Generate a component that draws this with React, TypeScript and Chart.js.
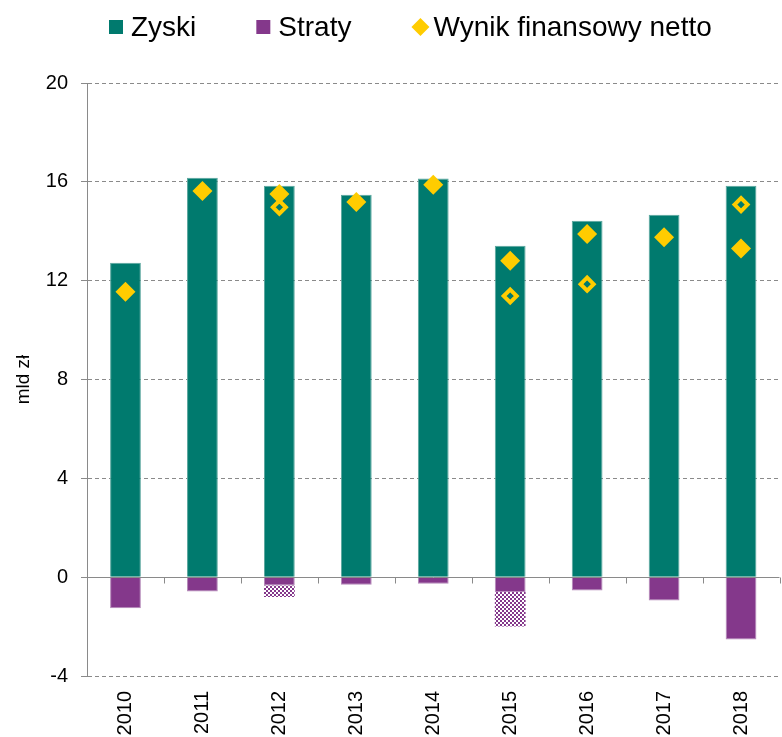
import React, { useEffect, useRef } from 'react';
import { Chart, registerables } from 'chart.js';

Chart.register(...registerables);

const years = ['2010', '2011', '2012', '2013', '2014', '2015', '2016', '2017', '2018'];
const zyski = [12.73, 16.17, 15.84, 15.48, 16.13, 13.41, 14.43, 14.67, 15.84];
const straty = [-1.26, -0.58, -0.34, -0.31, -0.27, -0.6, -0.54, -0.94, -2.52];
const stratyExtra = [null, null, -0.46, null, null, -1.4, null, null, null];
const wynik = [11.55, 15.63, 15.51, 15.18, 15.88, 12.81, 13.89, 13.76, 13.3];
const wynikAlt = [null, null, 14.97, null, null, 11.38, 11.86, null, 15.08];
const yTicks = [-4, 0, 4, 8, 12, 16, 20];

const TEAL = '#007A6E';
const PURPLE = '#84388B';
const YELLOW = '#FFCC00';
const GRID = '#8a8a8a';
const FONT = '"Liberation Sans", Arial, Helvetica, sans-serif';

export default function App() {
  const ref = useRef<HTMLCanvasElement>(null);

  useEffect(() => {
    const canvas = ref.current;
    if (!canvas) return;
    const pc = document.createElement('canvas');
    pc.width = 4;
    pc.height = 4;
    const p = pc.getContext('2d')!;
    p.fillStyle = '#ffffff';
    p.fillRect(0, 0, 4, 4);
    p.fillStyle = PURPLE;
    p.fillRect(0, 0, 2, 2);
    p.fillRect(2, 2, 2, 2);
    const pattern = canvas.getContext('2d')!.createPattern(pc, 'repeat');

    const legendPlugin = {
      id: 'customLegend',
      afterDraw(chart: any) {
        const ctx = chart.ctx;
        ctx.save();
        ctx.font = `28px ${FONT}`;
        ctx.textBaseline = 'alphabetic';
        ctx.textAlign = 'left';
        const items = [
          { label: 'Zyski', color: TEAL, shape: 'rect' },
          { label: 'Straty', color: PURPLE, shape: 'rect' },
          { label: 'Wynik finansowy netto', color: YELLOW, shape: 'diamond' },
        ];
        let x = 109;
        for (const it of items) {
          ctx.fillStyle = it.color;
          if (it.shape === 'rect') {
            ctx.fillRect(x, 20, 14, 14);
          } else {
            const cx = x + 9;
            const cy = 27;
            ctx.beginPath();
            ctx.moveTo(cx - 9, cy);
            ctx.lineTo(cx, cy - 9);
            ctx.lineTo(cx + 9, cy);
            ctx.lineTo(cx, cy + 9);
            ctx.closePath();
            ctx.fill();
          }
          const tx = x + 22;
          ctx.fillStyle = '#000';
          ctx.fillText(it.label, tx, 36);
          x = tx + ctx.measureText(it.label).width + 60;
        }
        ctx.restore();
      },
    };

    const zeroPlugin = {
      id: 'zeroAxis',
      afterDatasetsDraw(chart: any) {
        const ctx = chart.ctx;
        const xs = chart.scales.x;
        const ys = chart.scales.y;
        const area = chart.chartArea;
        const y0 = Math.round(ys.getPixelForValue(0)) + 0.5;
        ctx.save();
        ctx.strokeStyle = GRID;
        ctx.lineWidth = 1;
        ctx.setLineDash([]);
        ctx.beginPath();
        ctx.moveTo(area.left, y0);
        ctx.lineTo(area.right, y0);
        for (let i = 1; i <= years.length; i++) {
          const bx = Math.round((xs.getPixelForValue(i - 1) + (i < years.length ? xs.getPixelForValue(i) : area.right + (area.right - xs.getPixelForValue(i - 1)))) / 2) + 0.5;
          ctx.moveTo(bx, y0);
          ctx.lineTo(bx, y0 + 6);
        }
        ctx.stroke();
        ctx.restore();
      },
    };

    const chart = new Chart(canvas, {
      type: 'bar',
      data: {
        labels: years,
        datasets: [
          {
            type: 'line',
            label: 'Wynik finansowy netto',
            data: wynik,
            showLine: false,
            pointStyle: 'rectRot',
            pointRadius: 10,
            pointHoverRadius: 10,
            pointBackgroundColor: YELLOW,
            pointBorderWidth: 0,
            borderColor: YELLOW,
            backgroundColor: YELLOW,
            stack: 'w1',
            order: 0,
          } as any,
          {
            type: 'line',
            label: 'Wynik alt',
            data: wynikAlt,
            showLine: false,
            pointStyle: 'rectRot',
            pointRadius: 6.5,
            pointHoverRadius: 6.5,
            pointBackgroundColor: 'rgba(0,0,0,0)',
            pointBorderColor: YELLOW,
            pointBorderWidth: 4,
            borderColor: YELLOW,
            backgroundColor: 'rgba(0,0,0,0)',
            stack: 'w2',
            order: 0,
          } as any,
          {
            label: 'Zyski',
            data: zyski,
            backgroundColor: TEAL,
            borderColor: '#5aa69e',
            borderWidth: 1,
            stack: 'bars',
            order: 1,
          },
          {
            label: 'Straty',
            data: straty,
            backgroundColor: PURPLE,
            borderColor: '#b488b8',
            borderWidth: 1,
            stack: 'bars',
            order: 1,
          },
          {
            label: 'Straty (dodatkowe)',
            data: stratyExtra as any,
            backgroundColor: pattern as any,
            borderWidth: 0,
            stack: 'bars',
            order: 1,
          },
        ],
      },
      options: {
        animation: false,
        responsive: false,
        devicePixelRatio: 1,
        layout: { padding: { top: 83, left: 0, right: 4, bottom: 0 } },
        datasets: {
          bar: { categoryPercentage: 1, barPercentage: 0.4 },
        },
        plugins: {
          legend: { display: false },
          tooltip: { enabled: false },
        },
        scales: {
          x: {
            stacked: true,
            offset: true,
            grid: { display: false },
            border: { display: false },
            ticks: {
              color: '#000',
              font: { family: FONT, size: 20 },
              minRotation: 90,
              maxRotation: 90,
              padding: 7,
            },
            afterFit(scale: any) {
              scale.height = 61;
              scale.paddingLeft = 0;
              scale.paddingRight = 0;
            },
          },
          y: {
            stacked: true,
            min: -4,
            max: 20,
            afterBuildTicks(scale: any) {
              scale.ticks = yTicks.map((v) => ({ value: v }));
            },
            ticks: {
              color: '#000',
              font: { family: FONT, size: 20 },
              padding: 13,
              stepSize: 4,
            },
            grid: {
              color: (ctx: any) => (ctx.tick && ctx.tick.value === 0 ? 'rgba(0,0,0,0)' : GRID),
              lineWidth: 1,
              drawTicks: true,
              tickLength: 6,
              tickColor: GRID,
              tickBorderDash: [],
            } as any,
            border: {
              display: true,
              color: GRID,
              width: 1,
              dash: (ctx: any) => (ctx.type === 'tick' ? [4, 3] : []),
            } as any,
            title: {
              display: true,
              text: 'mld zł',
              color: '#000',
              font: { family: FONT, size: 19 },
              padding: { top: 12, bottom: 0 },
            },
            afterFit(scale: any) {
              scale.width = 87;
            },
          },
        },
      },
      plugins: [legendPlugin, zeroPlugin],
    });

    return () => chart.destroy();
  }, []);

  return (
    <div
      style={{
        position: 'fixed',
        left: 0,
        top: 0,
        width: 782,
        height: 737,
        overflow: 'hidden',
        background: '#fff',
      }}
    >
      <canvas ref={ref} width={790} height={737} style={{ display: 'block', width: 790, height: 737 }} />
    </div>
  );
}
